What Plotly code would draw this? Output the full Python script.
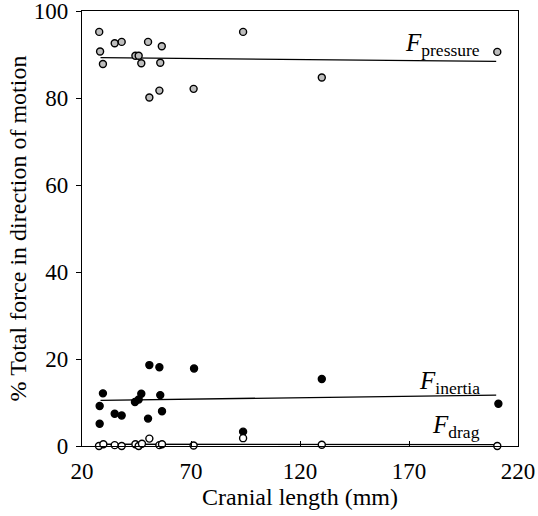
import plotly.graph_objects as go

# Pressure (gray)
pressure_x = [27.9, 28.3, 29.6, 35.0, 38.2, 44.5, 46.0, 47.2, 50.3, 50.9, 55.5, 55.9, 56.6, 71.2, 93.9, 130.0, 210.5]
pressure_y = [95.2, 90.7, 87.8, 92.6, 92.9, 89.7, 89.7, 88.0, 92.9, 80.1, 81.7, 88.1, 91.9, 82.1, 95.2, 84.7, 90.6]

# Inertia (black)
inertia_x = [50.9, 55.5, 71.4, 29.6, 47.2, 55.9, 46.0, 44.3, 28.1, 35.0, 38.2, 56.7, 50.3, 28.1, 93.9, 130.0, 211.0]
inertia_y = [18.6, 18.1, 17.8, 12.1, 12.0, 11.7, 10.7, 10.1, 9.2, 7.4, 7.0, 8.0, 6.3, 5.1, 3.3, 15.4, 9.7]

# Drag (white)
drag_x = [27.8, 29.8, 35.0, 38.2, 44.5, 46.0, 47.5, 50.9, 55.5, 56.7, 71.2, 93.9, 130.0, 210.5]
drag_y = [0.0, 0.4, 0.2, 0.0, 0.4, 0.0, 0.5, 1.7, 0.2, 0.4, 0.1, 1.8, 0.3, 0.0]

# Fitted trend lines
fit_x = [28.5, 210.0]
pressure_fit = [89.3, 88.4]
inertia_fit = [10.5, 11.7]
drag_fit = [0.4, 0.3]

x_ticks = [20, 70, 120, 170, 220]
y_ticks = [0, 20, 40, 60, 80, 100]

FONT = "Liberation Serif, Times New Roman, serif"

fig = go.Figure()

for fy in [pressure_fit, inertia_fit, drag_fit]:
    fig.add_trace(go.Scatter(x=fit_x, y=fy, mode="lines",
                             line=dict(color="black", width=1.3),
                             showlegend=False, hoverinfo="skip"))

def markers(x, y, fill):
    return go.Scatter(x=x, y=y, mode="markers",
                      marker=dict(size=7, color=fill, line=dict(color="black", width=1.4)),
                      showlegend=False, cliponaxis=False)

fig.add_trace(markers(pressure_x, pressure_y, "#bdbdbd"))
fig.add_trace(markers(inertia_x, inertia_y, "black"))
fig.add_trace(markers(drag_x, drag_y, "white"))

labels = [("pressure", 92.2), ("inertia", 14.5), ("drag", 4.4)]
for name, yy in labels:
    fig.add_annotation(x=203.5, y=yy, xref="x", yref="y",
                       text=f"<i>F</i><sub>{name}</sub>", showarrow=False,
                       xanchor="right", yanchor="middle",
                       font=dict(family=FONT, size=25, color="black"))

fig.update_layout(
    width=538, height=516,
    margin=dict(l=82, r=20, t=11, b=70),
    paper_bgcolor="white", plot_bgcolor="white",
    font=dict(family=FONT, size=23, color="black"),
    xaxis=dict(range=[20, 220], tickvals=x_ticks, ticks="inside", ticklen=5,
               tickcolor="black", showgrid=False, zeroline=False, automargin=False,
               ticklabeloverflow="allow", ticklabelstandoff=4,
               showline=True, linecolor="black", linewidth=1.3, mirror=True,
               tickfont=dict(family=FONT, size=23),
               title=dict(text="Cranial length (mm)", font=dict(family=FONT, size=24), standoff=4)),
    yaxis=dict(range=[0, 100], tickvals=y_ticks, ticks="outside", ticklen=5,
               tickcolor="black", showgrid=False, zeroline=False, automargin=False,
               ticklabeloverflow="allow", ticklabelstandoff=3,
               showline=True, linecolor="black", linewidth=1.3, mirror=True,
               tickfont=dict(family=FONT, size=23),
               title=dict(text="% Total force in direction of motion", font=dict(family=FONT, size=24), standoff=0)),
)

fig.write_html("out.html",
               config={"displayModeBar": False},
               post_script="document.body.style.margin='0';document.body.style.overflow='hidden';")
